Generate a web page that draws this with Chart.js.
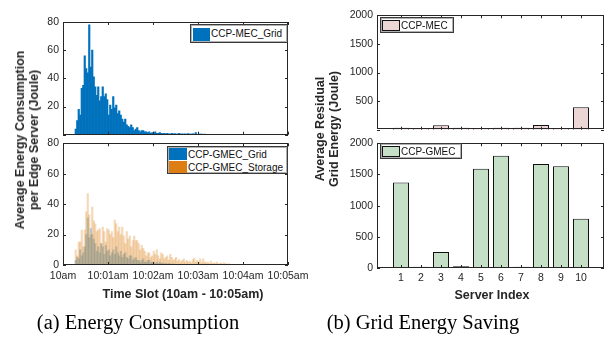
<!DOCTYPE html>
<html>
<head>
<meta charset="utf-8">
<script src="https://cdn.jsdelivr.net/npm/chart.js@4.4.1/dist/chart.umd.min.js"></script>
<style>
  body { margin: 0; background: #fff; }
  #wrap { position: relative; width: 605px; height: 343px; background: #fff; overflow: hidden;
          font-family: "Liberation Sans", Arial, sans-serif; color: #262626; }
  canvas { position: absolute; }
  .leg { position: absolute; background: #fff; border: 1px solid #3a3a3a; box-shadow: inset 0 0 0 1px #b0b0b0; box-sizing: border-box; }
  .sw { position: absolute; }
  .lt { position: absolute; font-size: 10px; color: #111; white-space: nowrap; }
  .ttl { position: absolute; font-weight: bold; font-size: 12.5px; white-space: nowrap; color: #262626; }
  .rot { transform: translate(-50%, -50%) rotate(-90deg); text-align: center; line-height: 14px; }
  .cap { position: absolute; font-family: "Liberation Serif", "Times New Roman", serif; font-size: 20.5px;
         line-height: 20.5px; color: #000; white-space: nowrap; transform: translateX(-50%); }
</style>
</head>
<body>
<div id="wrap">
  <canvas id="lt" width="280" height="135" style="left:20px;top:10px"></canvas>
  <canvas id="lb" width="300" height="175" style="left:20px;top:133px"></canvas>
  <canvas id="rt" width="265" height="135" style="left:340px;top:5px"></canvas>
  <canvas id="rb" width="265" height="175" style="left:340px;top:133px"></canvas>

  <div class="leg" style="left:190px;top:24px;width:98px;height:19px">
    <span class="sw" style="left:2px;top:3px;width:17px;height:13px;background:#0072BD"></span>
    <span class="lt" style="left:20px;top:0;line-height:18px">CCP-MEC_Grid</span>
  </div>
  <div class="leg" style="left:167px;top:146px;width:121px;height:28px">
    <span class="sw" style="left:1px;top:1px;width:18px;height:12px;background:#0072BD"></span>
    <span class="lt" style="left:20px;top:1px;line-height:13px">CCP-GMEC_Grid</span>
    <span class="sw" style="left:1px;top:14px;width:18px;height:12px;background:#DC7E14"></span>
    <span class="lt" style="left:20px;top:14px;line-height:13px">CCP-GMEC_Storage</span>
  </div>
  <div class="leg" style="left:380px;top:17px;width:74px;height:16px">
    <span class="sw" style="left:1px;top:2px;width:18px;height:11px;background:#ECD5D5;border:1px solid #111;box-sizing:border-box"></span>
    <span class="lt" style="left:20px;top:0;line-height:15px">CCP-MEC</span>
  </div>
  <div class="leg" style="left:380px;top:143px;width:82px;height:16px">
    <span class="sw" style="left:1px;top:2px;width:18px;height:11px;background:#C5E0C7;border:1px solid #111;box-sizing:border-box"></span>
    <span class="lt" style="left:20px;top:0;line-height:15px">CCP-GMEC</span>
  </div>

  <div class="ttl rot" style="left:27px;top:140px">Average Energy Consumption<br>per Edge Server (Joule)</div>
  <div class="ttl rot" style="left:327px;top:129px">Average Residual<br>Grid Energy (Joule)</div>
  <div class="ttl" style="left:183px;top:294px;transform:translate(-50%,-50%)">Time Slot (10am - 10:05am)</div>
  <div class="ttl" style="left:492px;top:295px;transform:translate(-50%,-50%)">Server Index</div>

  <div class="cap" style="left:138px;top:312px">(a) Energy Consumption</div>
  <div class="cap" style="left:423px;top:312px">(b) Grid Energy Saving</div>
</div>

<script>
// ---- data ----
// energy per 2-second time slot, starting at 10:00:00
const binSeconds = 2;
const timeTickLabels = ["10am", "10:01am", "10:02am", "10:03am", "10:04am", "10:05am"];

const mecGrid = [
  0, 0, 0, 0, 0, 0, 0, 0,
  4, 10, 18, 14, 33, 35, 56, 47, 44, 78,
  48, 60, 41, 34, 28, 34, 24, 27, 34, 27,
  29, 25, 14, 21, 18, 27, 19, 21, 15, 17,
  14, 11, 9, 11, 7, 6, 5, 7, 5, 3,
  4, 5, 3, 2, 3, 3, 2, 2, 1.5, 2,
  1, 1.5, 1, 2, 1, 1, 1.5, 1,
  0.8, 1, 0.6, 1, 0.7, 0.5, 1, 0.6, 0.8, 0.5,
  0.6, 0.9, 0.5, 0.7, 0.4, 0.6, 0.5, 0.8, 0.4, 0.5,
  0.6, 0.4, 1.5, 0.3, 0.5, 0.5, 0.4, 0.3, 0.4, 0.3
];

const gmecGrid = [
  0, 0, 0, 0, 0, 0, 0, 0,
  3, 5, 4, 10, 6, 8, 12, 20, 31, 18,
  24, 20, 17, 14, 9, 12, 8, 14, 12, 7,
  13, 9, 10, 6, 8, 10, 7, 12, 8, 6,
  9, 5, 7, 8, 5, 4, 6, 6, 3, 4,
  5, 3, 3, 2, 3, 4, 2, 2, 3, 3,
  1.5, 2, 1.5, 1, 2, 1, 2, 1,
  1.2, 0.8, 1, 0.6, 1, 0.8, 0.5, 0.8, 0.5, 0.4
];

const gmecStorage = [
  0, 0, 0, 0, 0, 0, 0, 0,
  10, 6, 15, 15, 23, 12, 23, 35, 47, 33,
  20, 38, 29, 27, 22, 23, 24, 14, 25, 22,
  15, 24, 23, 20, 22, 18, 29.5, 27, 22, 25,
  20, 25, 19, 14, 22, 17, 19, 12, 16, 19,
  16, 16, 14, 10, 13, 11, 9, 6, 8, 8,
  5, 6, 9, 7, 10, 6, 4, 8,
  7, 4, 5, 6, 3, 7, 5, 3, 4, 5,
  2.5, 3.5, 2, 3, 4, 2, 3, 2, 2.5, 1.5,
  3.5, 4.5, 2, 3, 2, 4, 1.5, 4, 2, 1.5,
  2, 1, 2.5, 1, 1.5, 1, 2, 0.8, 1, 1.2,
  0.6, 1.5, 0.8, 0.6, 1, 0.5
];

const serverIds = [1, 2, 3, 4, 5, 6, 7, 8, 9, 10];
const mecResidual = [32, 30, 78, 32, 30, 36, 32, 80, 30, 392];
const gmecResidual = [1372, 20, 257, 28, 1592, 1800, 20, 1670, 1630, 788];

// x positions (bin centres) of the time slots
const slotCentres = [];
for (let i = 0; i < 150; i++) slotCentres.push(i * binSeconds + binSeconds / 2);

Chart.defaults.font.family = '"Liberation Sans", Arial, sans-serif';
Chart.defaults.font.size = 10.5;
Chart.defaults.color = '#262626';

// MATLAB style box with inward ticks on all four sides
const boxTicks = {
  id: 'boxTicks',
  afterDraw(chart) {
    const { ctx, chartArea: a, scales } = chart;
    ctx.save();
    ctx.strokeStyle = '#262626';
    ctx.lineWidth = 1;
    ctx.beginPath();
    scales.x.ticks.forEach(t => {
      const px = Math.round(scales.x.getPixelForValue(t.value)) + 0.5;
      ctx.moveTo(px, a.top); ctx.lineTo(px, a.top + 3);
      ctx.moveTo(px, a.bottom); ctx.lineTo(px, a.bottom - 3);
    });
    scales.y.ticks.forEach(t => {
      const py = Math.round(scales.y.getPixelForValue(t.value)) + 0.5;
      ctx.moveTo(a.left, py); ctx.lineTo(a.left + 3, py);
      ctx.moveTo(a.right, py); ctx.lineTo(a.right - 3, py);
    });
    ctx.stroke();
    ctx.strokeRect(Math.round(a.left) + 0.5, Math.round(a.top) + 0.5,
      Math.round(a.right - a.left) - 1, Math.round(a.bottom - a.top) - 1);
    ctx.restore();
  }
};

function timeAxis(showLabels, height) {
  return {
    type: 'linear', min: 0, max: 300, offset: false,
    grid: { display: false, drawTicks: false }, border: { display: false },
    ticks: {
      display: showLabels, stepSize: 60, padding: 5, maxRotation: 0, autoSkip: false,
      callback: v => timeTickLabels[v / 60]
    },
    afterFit: s => { s.height = height; }
  };
}

function valueAxis(max, step, hideZero, width) {
  return {
    min: 0, max: max,
    grid: { display: false, drawTicks: false }, border: { display: false },
    ticks: { stepSize: step, padding: 4, callback: v => (hideZero && v === 0) ? '' : v },
    afterFit: s => { s.width = width; }
  };
}

function serverAxis(showLabels, height) {
  return {
    type: 'linear', min: -0.2, max: 11.15, offset: false,
    grid: { display: false, drawTicks: false }, border: { display: false },
    afterBuildTicks: s => { s.ticks = serverIds.map(v => ({ value: v })); },
    ticks: { display: showLabels, padding: 4, maxRotation: 0, autoSkip: false, callback: v => v },
    afterFit: s => { s.height = height; }
  };
}

const common = {
  responsive: false,
  animation: false,
  plugins: { legend: { display: false }, tooltip: { enabled: false } }
};

// (a) top: CCP-MEC grid energy
new Chart(document.getElementById('lt'), {
  type: 'bar',
  data: {
    labels: slotCentres,
    datasets: [{ data: mecGrid, backgroundColor: '#0072BD', barPercentage: 1, categoryPercentage: 1 }]
  },
  options: Object.assign({}, common, {
    layout: { padding: { left: 0, right: 12, top: 12, bottom: 5 } },
    scales: { x: timeAxis(false, 0), y: valueAxis(80, 20, true, 43) }
  }),
  plugins: [boxTicks]
});

// (a) bottom: CCP-GMEC grid and storage energy
new Chart(document.getElementById('lb'), {
  type: 'bar',
  data: {
    labels: slotCentres,
    datasets: [
      { data: gmecStorage, backgroundColor: 'rgba(220,126,20,0.3)', barPercentage: 1, categoryPercentage: 1, grouped: false },
      { data: gmecGrid, backgroundColor: 'rgba(0,114,189,0.32)', barPercentage: 1, categoryPercentage: 1, grouped: false }
    ]
  },
  options: Object.assign({}, common, {
    layout: { padding: { left: 0, right: 32, top: 10, bottom: 0 } },
    scales: { x: timeAxis(true, 43), y: valueAxis(80, 20, false, 43) }
  }),
  plugins: [boxTicks]
});

// (b) top: CCP-MEC residual grid energy
new Chart(document.getElementById('rt'), {
  type: 'bar',
  data: {
    labels: serverIds,
    datasets: [{ data: mecResidual, backgroundColor: '#ECD5D5', borderColor: '#111', borderWidth: 1,
                 barPercentage: 0.8, categoryPercentage: 1 }]
  },
  options: Object.assign({}, common, {
    layout: { padding: { left: 0, right: 1, top: 8, bottom: 3 } },
    scales: { x: serverAxis(false, 0), y: valueAxis(2000, 500, true, 37) }
  }),
  plugins: [boxTicks]
});

// (b) bottom: CCP-GMEC residual grid energy
new Chart(document.getElementById('rb'), {
  type: 'bar',
  data: {
    labels: serverIds,
    datasets: [{ data: gmecResidual, backgroundColor: '#C5E0C7', borderColor: '#111', borderWidth: 1,
                 barPercentage: 0.8, categoryPercentage: 1 }]
  },
  options: Object.assign({}, common, {
    layout: { padding: { left: 0, right: 1, top: 7, bottom: 0 } },
    scales: { x: serverAxis(true, 40), y: valueAxis(2000, 500, false, 37) }
  }),
  plugins: [boxTicks]
});
</script>
</body>
</html>
